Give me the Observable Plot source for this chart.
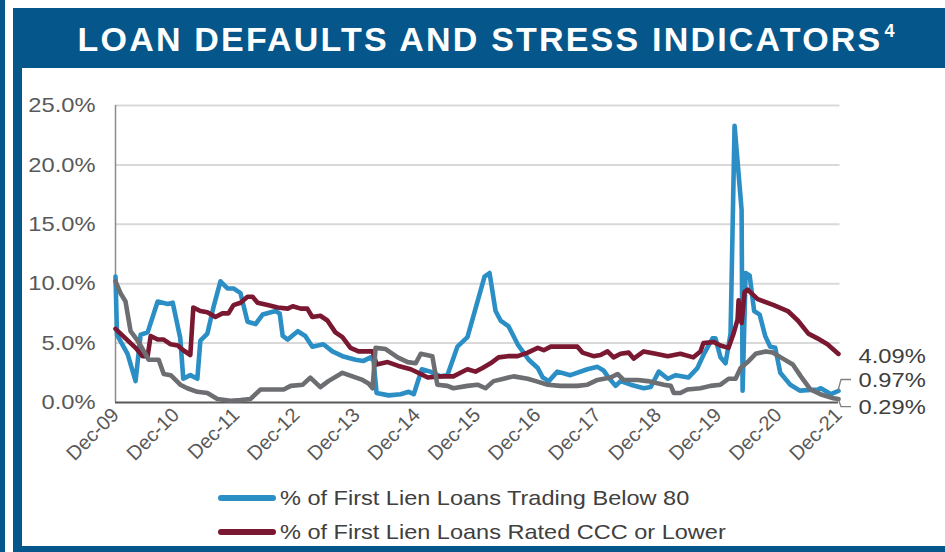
<!DOCTYPE html>
<html><head><meta charset="utf-8">
<script src="https://cdn.jsdelivr.net/npm/d3@7"></script>
<script src="https://cdn.jsdelivr.net/npm/@observablehq/plot@0.6"></script>
<style>
body{margin:0;background:#fff;}
#page{position:relative;width:945px;height:552px;overflow:hidden;background:#fff;font-family:"Liberation Sans",Arial,sans-serif;}
.strip{position:absolute;left:0;top:0;width:5px;height:552px;background:#05578B;}
.panel{position:absolute;left:13px;top:8px;width:940px;height:544px;box-sizing:border-box;border-left:9px solid #05578B;border-bottom:6px solid #05578B;}
.title{position:absolute;left:13px;top:8px;width:932px;height:60px;background:#05578B;color:#fff;font-weight:bold;font-size:34px;letter-spacing:2.2px;text-align:center;line-height:62px;box-sizing:border-box;padding-left:14px;white-space:nowrap;}
.title sup{font-size:18px;vertical-align:0;position:relative;top:-14px;letter-spacing:0;margin-left:2px;}
#chart{position:absolute;left:0;top:68px;}
.lg{position:absolute;left:218px;height:0;}
.sw{position:absolute;left:0;top:-3px;width:58px;height:6px;border-radius:3px;}
.lt{position:absolute;left:62px;top:-13px;font-size:21px;line-height:26px;color:#404040;white-space:nowrap;transform:scaleX(1.12);transform-origin:0 50%;}
</style></head>
<body>
<div id="page">
  <div class="strip"></div>
  <div class="panel"></div>
  <div class="title">LOAN DEFAULTS AND STRESS INDICATORS<sup>4</sup></div>
  <div id="chart"></div>
  <div id="legend"></div>
</div>
<script>
// ---- data (x = months since Dec-09, y = percent) ----
const xTickMonths = [0, 12, 24, 36, 48, 60, 72, 84, 96, 108, 120, 132, 144];
const xTickLabels = ["Dec-09","Dec-10","Dec-11","Dec-12","Dec-13","Dec-14","Dec-15","Dec-16","Dec-17","Dec-18","Dec-19","Dec-20","Dec-21"];
const yTicks = [0, 5, 10, 15, 20, 25];

const seriesNames = ["% of First Lien Loans Trading Below 80", "% of First Lien Loans Rated CCC or Lower", "Default rate"];
const seriesColors = ["#2B8FC6", "#7A1832", "#6D6E71"];

const below80 = [[0,10.6],[0.3,5.7],[2.4,4.1],[4,1.8],[5,5.7],[6.4,5.9],[8.4,8.5],[10.4,8.3],[11.4,8.4],[12.9,5.4],
[13.5,2.0],[14.9,2.3],[16.3,2.0],[16.9,5.2],[18.3,5.8],[19.5,8.0],[20.9,10.2],[22.3,9.6],[23.5,9.6],[24.9,9.2],
[26.3,6.8],[27.9,6.6],[29.3,7.4],[31.9,7.7],[32.7,7.5],[33.3,5.6],[34.3,5.3],[36.3,6.0],[37.8,5.6],[39.2,4.7],
[41.4,4.9],[43.2,4.3],[45.2,3.9],[47.8,3.6],[49.4,3.5],[50.8,3.8],[51.4,3.5],[52,0.8],[54.4,0.6],[56.8,0.7],
[58.4,0.9],[59.4,0.7],[61,2.8],[62.7,2.6],[64.7,2.2],[66.1,2.3],[68.1,4.7],[70.1,5.5],[73.5,10.6],[74.5,10.9],
[75.7,7.7],[76.7,6.9],[78.3,6.4],[80.1,4.9],[82.3,3.6],[84.1,2.9],[85.1,2.1],[86.3,1.8],[88,2.6],[90.6,2.3],
[94,2.8],[96,3.0],[97.2,2.7],[98.2,2.1],[99.6,1.4],[100.6,1.8],[102.6,1.5],[105.2,1.2],[106.6,1.3],[108.2,2.6],
[110,2.0],[111.6,2.3],[114.1,2.1],[115.9,2.9],[117.1,4.0],[118.9,5.4],[119.5,5.4],[120.5,3.8],[121.5,3.3],[122.5,5.8],
[123.3,23.3],[124.7,16.2],[124.9,1.0],[125.5,10.9],[126.3,10.7],[127.2,7.7],[128.3,7.4],[129.4,5.6],[130.4,4.7],[131.4,4.6],
[132.4,2.5],[134.4,1.5],[136.3,1.0],[139.9,1.1],[140.5,1.2],[142.5,0.7],[144,0.97]];

const ratedCCC = [[0,6.2],[2,5.4],[4,4.6],[5.4,3.9],[6.4,3.9],[7,5.6],[8.4,5.3],[9.6,5.3],[11,4.9],[12.4,4.8],
[13.5,4.4],[14.9,4.0],[15.5,8.0],[16.9,7.7],[18.3,7.6],[19.9,7.2],[21.3,7.5],[22.5,7.5],[23.5,8.2],[24.9,8.4],
[26.3,8.9],[27.3,8.9],[28.3,8.4],[30.3,8.2],[32.3,8.0],[34.3,7.9],[35.3,8.1],[36.9,7.9],[38.2,7.9],[39.2,7.2],
[40.8,7.3],[42.2,6.9],[43.8,5.9],[45.2,5.5],[46.8,4.6],[48.4,4.3],[51.2,4.3],[52,3.2],[54.2,3.4],[56.2,3.1],
[58.8,2.8],[60.8,2.4],[62.2,2.1],[64.7,2.2],[67.3,2.2],[68.7,2.5],[70.1,2.8],[71.7,2.6],[73.1,2.9],[74.7,3.3],
[76.3,3.8],[78.1,3.9],[80.1,3.9],[82.1,4.2],[84.1,4.6],[85.3,4.4],[86.7,4.7],[90,4.7],[92,4.7],[93,4.2],
[95.2,3.9],[96.6,4.0],[98,4.3],[99.2,3.8],[100.6,4.1],[102.2,4.2],[103.2,3.7],[105.2,4.3],[107.6,4.1],[110,3.9],
[112.5,4.1],[115.1,3.8],[116.5,4.3],[117.1,5.0],[119.1,5.1],[120.5,4.8],[122.1,4.6],[123.1,5.8],[123.9,7.0],[124.1,8.6],
[124.7,6.7],[125.3,9.3],[125.9,9.5],[127.9,8.7],[131.1,8.2],[133.9,7.7],[135.9,6.9],[138,5.8],[139.8,5.4],[141.8,4.9],[144,4.09]];

const defaults = [[0,10.2],[1,9.2],[2,8.5],[3,6.0],[4.4,5.2],[5.4,4.5],[6.6,3.6],[8.6,3.6],[9.6,2.4],[11,2.3],
[12.9,1.5],[14.3,1.2],[16.3,0.9],[18.3,0.8],[20.3,0.3],[22.9,0.15],[24.9,0.2],[26.9,0.3],[28.9,1.1],[31.5,1.1],
[33.5,1.1],[34.9,1.4],[37.3,1.5],[38.8,2.1],[40.8,1.3],[42.4,1.8],[45.2,2.5],[47.2,2.2],[49.2,1.9],[50.4,1.6],
[51.2,1.2],[51.8,4.6],[53.8,4.5],[56.2,3.8],[58.2,3.4],[59.8,3.3],[60.8,4.1],[63.1,3.9],[64.1,1.5],[66.1,1.4],
[67.3,1.2],[70.1,1.4],[72.1,1.5],[73.7,1.2],[75.3,1.8],[77.3,2.0],[79.3,2.2],[82.1,2.0],[83.7,1.8],[86.1,1.5],
[88.6,1.4],[92,1.4],[94,1.5],[96,1.9],[98.6,2.1],[100,2.4],[101.2,1.9],[104,1.9],[106,1.8],[109.2,1.5],
[110.6,1.4],[111.2,0.8],[112.5,0.8],[113.9,1.1],[116.5,1.2],[118.5,1.4],[120.5,1.5],[122.1,2.0],[123.5,2.0],[124.5,2.9],
[125.9,3.4],[127.5,4.1],[129.5,4.3],[130.9,4.2],[132.5,3.8],[134.9,3.2],[136.5,2.2],[138.4,1.1],[140.4,0.7],[143,0.35],[144,0.29]];

// end-of-series labels, in series order (below80, ratedCCC, defaults)
const endLabels = ["0.97%", "4.09%", "0.29%"];

// ---- build ----
const allSeries = [below80, ratedCCC, defaults];
const rows = allSeries.flatMap((s, k) => s.map(([m, v]) => ({series: seriesNames[k], m, v})));
const lastPoints = allSeries.map((s, k) => ({series: seriesNames[k], m: s[s.length-1][0], v: s[s.length-1][1], label: endLabels[k]}));

function endText(pt, dy) {
  return Plot.text([pt], {x: "m", y: "v", text: "label", dx: 20, dy, textAnchor: "start", fontSize: 21, fill: "#404040"});
}
function leader(pt, dy) {
  return Plot.dot([pt], {x: "m", y: "v", r: 1, render(index, scales, values) {
    const px = values.x[0], py = values.y[0], ly = py + dy;
    return d3.create("svg:path")
      .attr("d", `M${px},${py}L${px + 3},${ly}L${px + 13},${ly}`)
      .attr("fill", "none").attr("stroke", "#808080").attr("stroke-width", 1.3).node();
  }});
}

const chart = Plot.plot({
  width: 945, height: 420,
  marginLeft: 115, marginRight: 107, marginTop: 37, marginBottom: 86,
  style: {fontFamily: "'Liberation Sans', Arial, sans-serif", background: "transparent", overflow: "visible"},
  x: {domain: [0, 144], label: null},
  y: {domain: [0, 25], label: null},
  color: {domain: seriesNames, range: seriesColors},
  marks: [
    Plot.ruleY(yTicks.filter(d => d > 0), {stroke: "#d9d9d9", strokeWidth: 2, x1: 0, x2: 144.3}),
    Plot.axisY({ticks: yTicks, tickFormat: d => d.toFixed(1) + "%", tickSize: 0, tickPadding: 20, fontSize: 21, fill: "#595959", label: null}),
    Plot.axisX({ticks: xTickMonths, tickFormat: d => xTickLabels[xTickMonths.indexOf(d)], tickSize: 0, tickPadding: 9, tickRotate: -45, fontSize: 20, fill: "#595959", label: null}),
    Plot.ruleX([0], {y1: 0, y2: 25, stroke: "#8c8c8c", strokeWidth: 1.5}),
    Plot.ruleY([0], {stroke: "#595959", strokeWidth: 2}),
    Plot.line(rows, {x: "m", y: "v", z: "series", stroke: "series", strokeWidth: 4.6, strokeLinejoin: "round", strokeLinecap: "round"}),
    endText(lastPoints[1], 2),
    endText(lastPoints[0], -11),
    leader(lastPoints[0], -11),
    endText(lastPoints[2], 8),
    leader(lastPoints[2], 8)
  ]
});
// the original's horizontal (non-rotated) texts are slightly wide: stretch them a little
chart.querySelectorAll("text").forEach(t => {
  const tr = t.getAttribute("transform");
  if (tr && !tr.includes("rotate")) t.setAttribute("transform", tr + " scale(1.13,1)");
});
document.getElementById("chart").appendChild(chart);

// ---- legend (first two series, as in the original) ----
const legend = document.getElementById("legend");
[0, 1].forEach((k, i) => {
  const row = document.createElement("div");
  row.className = "lg";
  row.style.top = (498 + i * 34) + "px";
  row.innerHTML = `<div class="sw" style="background:${seriesColors[k]}"></div><div class="lt">${seriesNames[k]}</div>`;
  legend.appendChild(row);
});
</script>
</body></html>
